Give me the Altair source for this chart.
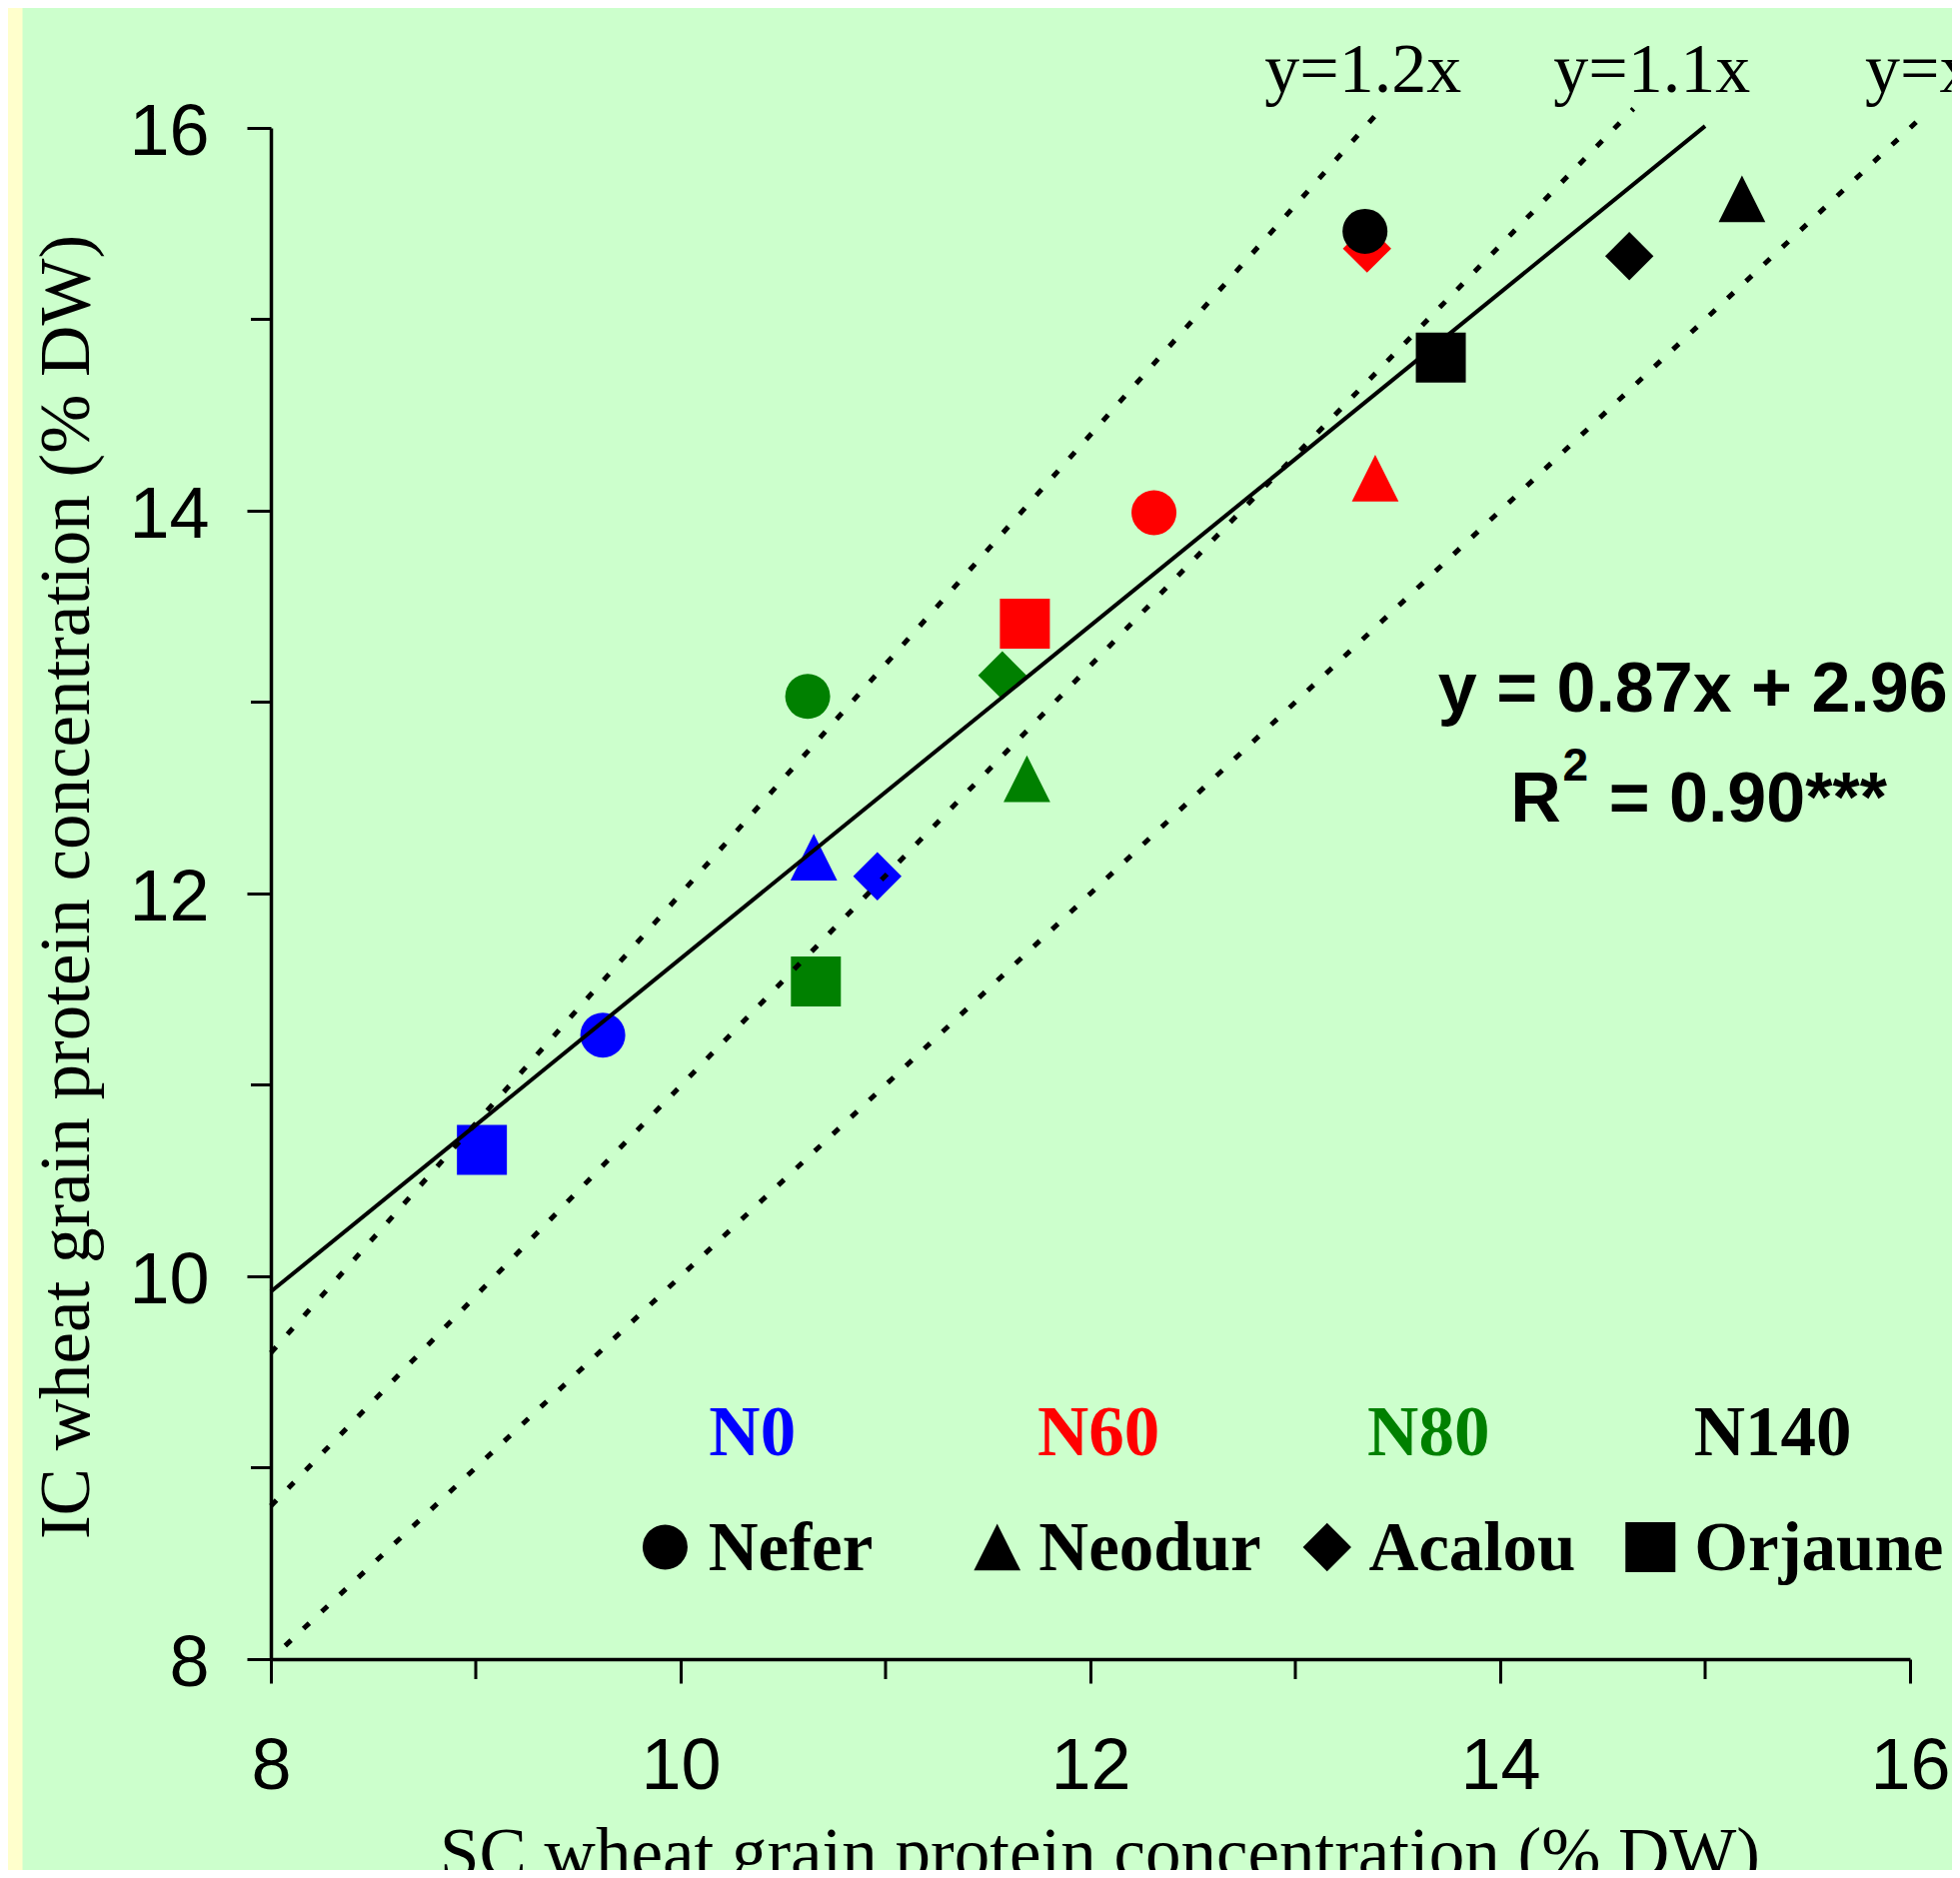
import altair as alt
import pandas as pd

# ---------------- data ----------------
n_levels = ["N0"] * 4 + ["N60"] * 4 + ["N80"] * 4 + ["N140"] * 4
cultivars = ["Nefer", "Neodur", "Acalou", "Orjaune"] * 4
sc_protein = [9.62, 10.65, 10.96, 9.03,
              12.31, 13.39, 13.35, 11.68,
              10.62, 11.69, 11.57, 10.66,
              13.34, 15.18, 14.63, 13.71]
ic_protein = [11.26, 12.19, 12.09, 10.66,
              13.99, 14.17, 15.37, 13.41,
              13.03, 12.60, 13.14, 11.54,
              15.46, 15.63, 15.33, 14.80]

level_names = ["N0", "N60", "N80", "N140"]
level_colors = ["#0000FF", "#FF0000", "#008000", "#000000"]
cultivar_names = ["Nefer", "Neodur", "Acalou", "Orjaune"]

# reference lines y = x, y = 1.1x, y = 1.2x (end points)
ref_names = ["y=x", "y=x", "y=1.1x", "y=1.1x", "y=1.2x", "y=1.2x"]
ref_x = [8.07, 16.05, 8.0, 14.65, 8.0, 13.42]
ref_y = [8.07, 16.05, 8.8, 16.1, 9.6, 16.1]

# regression line y = 0.87x + 2.96
fit_x = [8.0, 15.0]
fit_y = [9.92, 16.01]

major_ticks = [8, 10, 12, 14, 16]
minor_ticks = [9, 11, 13, 15]

ref_labels = ["y=1.2x", "y=1.1x", "y=x"]
eq_line1 = "y = 0.87x + 2.96"
eq_r = "R"
eq_sup = "2"
eq_rest = "= 0.90***"

x_title = "SC wheat grain protein concentration (% DW)"
y_title = "IC wheat grain protein concentration (% DW)"

# ---------------- layout ----------------
W, H = 1640, 1532
SERIF = "Liberation Serif"
SANS = "Liberation Sans"

pts = pd.DataFrame({"x": sc_protein, "y": ic_protein,
                    "level": n_levels, "cultivar": cultivars})
refs = pd.DataFrame({"x": ref_x, "y": ref_y, "line": ref_names})
fit = pd.DataFrame({"x": fit_x, "y": fit_y})

xscale = alt.Scale(domain=[8, 16], nice=False, zero=False)
yscale = alt.Scale(domain=[8, 16], nice=False, zero=False)

x_axis = alt.Axis(values=major_ticks, grid=False, labelFont=SANS, labelFontSize=72,
                  labelColor="black", labelPadding=48, labelFlush=False, labelOverlap=False,
                  tickSize=24, tickWidth=3, tickColor="black",
                  domainWidth=3.5, domainColor="black",
                  title=x_title, titleFont=SERIF, titleFontSize=71, titleFontWeight="normal",
                  titleColor="black", titleBaseline="alphabetic", titleAlign="center",
                  titleX=829, titleY=217)
y_axis = alt.Axis(values=major_ticks, grid=False, labelFont=SANS, labelFontSize=72,
                  labelColor="black", labelPadding=38, labelFlush=False, labelOverlap=False,
                  labelOffset=4,
                  tickSize=24, tickWidth=3, tickColor="black",
                  domainWidth=3.5, domainColor="black",
                  title=y_title, titleFont=SERIF, titleFontSize=71, titleFontWeight="normal",
                  titleColor="black", titleBaseline="alphabetic", titleAlign="center",
                  titleAngle=-90, titleX=-183, titleY=759)

X = alt.X("x:Q", scale=xscale, axis=x_axis)
Y = alt.Y("y:Q", scale=yscale, axis=y_axis)

color_enc = alt.Color("level:N", scale=alt.Scale(domain=level_names, range=level_colors), legend=None)
shape_enc = alt.Shape("cultivar:N", scale=alt.Scale(
    domain=cultivar_names, range=["circle", "M0,-1L1,1L-1,1Z", "diamond", "square"]), legend=None)
size_enc = alt.Size("cultivar:N", scale=alt.Scale(
    domain=cultivar_names, range=[2025, 2500, 2400, 2025]), legend=None)

# yellow strip at the left edge
strip = alt.Chart(pd.DataFrame({"a": [0]})).mark_rect(color="#FFFFCC").encode(
    x=alt.value(-263), x2=alt.value(-248.5), y=alt.value(-120), y2=alt.value(H + 211))

points = alt.Chart(pts).mark_point(filled=True, opacity=1, strokeWidth=0).encode(
    x=X, y=Y, color=color_enc, shape=shape_enc, size=size_enc)

ref_lines = alt.Chart(refs).mark_line(color="black", strokeWidth=5, strokeDash=[8, 17]).encode(
    x=X, y=Y, detail="line:N")

fit_line = alt.Chart(fit).mark_line(color="black", strokeWidth=4).encode(x=X, y=Y)

minor_x = alt.Chart(pd.DataFrame({"x": minor_ticks})).mark_rule(color="black", strokeWidth=3).encode(
    x=X, y=alt.value(H), y2=alt.value(H + 20))
minor_y = alt.Chart(pd.DataFrame({"y": minor_ticks})).mark_rule(color="black", strokeWidth=3).encode(
    y=Y, x=alt.value(0), x2=alt.value(-20))

# labels of reference lines
ref_text = alt.Chart(pd.DataFrame({"x": [12.85, 14.26, 15.78], "y": [16.187] * 3, "t": ref_labels})).mark_text(
    font=SERIF, fontSize=70, align="left", baseline="alphabetic", color="black").encode(x=X, y=Y, text="t:N")

# regression equation
eq1 = alt.Chart(pd.DataFrame({"x": [14.94], "y": [12.95], "t": [eq_line1]})).mark_text(
    font=SANS, fontSize=70, fontWeight="bold", align="center", baseline="alphabetic", color="black").encode(
    x=X, y=Y, text="t:N")
eq2 = alt.Chart(pd.DataFrame({"x": [14.05, 14.53], "y": [12.375, 12.375], "t": [eq_r, eq_rest]})).mark_text(
    font=SANS, fontSize=70, fontWeight="bold", align="left", baseline="alphabetic", color="black").encode(
    x=X, y=Y, text="t:N")
eq_sup_t = alt.Chart(pd.DataFrame({"x": [14.305], "y": [12.59], "t": [eq_sup]})).mark_text(
    font=SANS, fontSize=46, fontWeight="bold", align="left", baseline="alphabetic", color="black").encode(
    x=X, y=Y, text="t:N")

# custom legend: nitrogen levels (coloured text)
leg_levels = alt.Chart(pd.DataFrame({"x": [10.35, 12.04, 13.65, 15.33], "y": [9.063] * 4,
                                     "level": level_names})).mark_text(
    font=SERIF, fontSize=71, fontWeight="bold", align="center", baseline="alphabetic").encode(
    x=X, y=Y, text="level:N", color=color_enc)

# custom legend: cultivars (symbols + names)
leg_sym = alt.Chart(pd.DataFrame({"x": [9.924, 11.545, 13.155, 14.733], "y": [8.585] * 4,
                                  "cultivar": cultivar_names})).mark_point(
    filled=True, opacity=1, strokeWidth=0, color="black").encode(
    x=X, y=Y, shape=shape_enc, size=size_enc)
leg_names = alt.Chart(pd.DataFrame({"x": [10.135, 11.748, 13.358, 14.948], "y": [8.464] * 4,
                                    "cultivar": cultivar_names})).mark_text(
    font=SERIF, fontSize=69, fontWeight="bold", align="left", baseline="alphabetic", color="black").encode(
    x=X, y=Y, text="cultivar:N")

chart = alt.layer(
    strip, points, ref_lines, fit_line, minor_x, minor_y,
    ref_text, eq1, eq2, eq_sup_t, leg_levels, leg_sym, leg_names
).properties(
    width=W, height=H,
    autosize=alt.AutoSizeParams(type="none"),
    padding={"left": 263, "top": 120, "right": 42, "bottom": 211},
    background="#CCFFCC",
).configure_view(stroke=None)

chart.save("out.html", embed_options={"renderer": "svg", "actions": False})
